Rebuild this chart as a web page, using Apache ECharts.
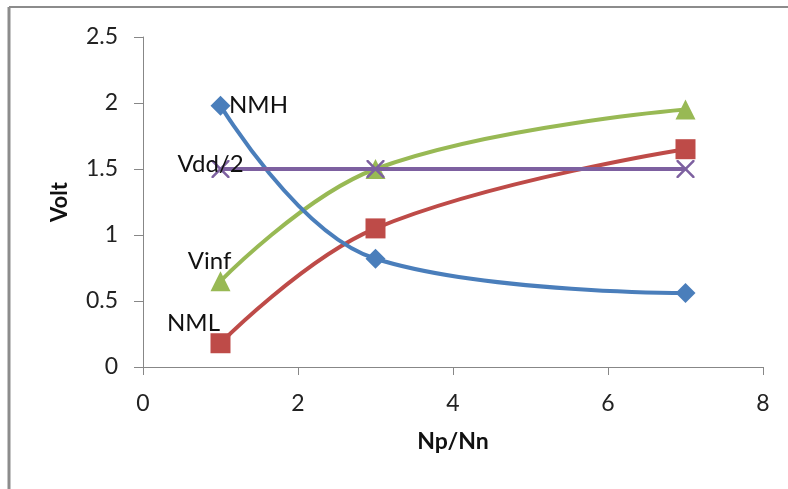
<!DOCTYPE html>
<html>
<head>
<meta charset="utf-8">
<script src="https://cdn.jsdelivr.net/npm/echarts@6/dist/echarts.min.js"></script>
<style>
html,body{margin:0;padding:0;background:#fff;}
#chart{width:788px;height:489px;}
</style>
</head>
<body>
<div id="chart"></div>
<script>
// Np/Nn ratios sampled
const ratios = [1, 3, 7];
// Noise margins and switching voltage (Volt)
const nmh = [1.98, 0.82, 0.56];
const nml = [0.18, 1.05, 1.65];
const vinf = [0.65, 1.5, 1.95];
const vddHalf = [1.5, 1.5, 1.5];
const seriesNames = ['NMH', 'NML', 'Vinf', 'Vdd/2'];
const xTicks = [0, 2, 4, 6, 8];
const yTicks = [0, 0.5, 1, 1.5, 2, 2.5];

const FONT = 'Lato, "Open Sans", sans-serif';
const crossPath = 'path://M0,0 L2,0 L10,8 L18,0 L20,0 L20,2 L12,10 L20,18 L20,20 L18,20 L10,12 L2,20 L0,20 L0,18 L8,10 L0,2 Z';

// series name printed beside the first point of each curve
function points(values, labelOffset) {
  return values.map((v, i) => {
    const item = { value: [ratios[i], v] };
    if (i === 0) {
      item.label = {
        show: true, position: 'inside', offset: labelOffset, formatter: '{a}',
        color: '#111', fontSize: 24, fontFamily: FONT
      };
    }
    return item;
  });
}

const chart = echarts.init(document.getElementById('chart'), null, { renderer: 'canvas' });
chart.setOption({
  animation: false,
  backgroundColor: '#fff',
  grid: { left: 143, right: 25, top: 37, bottom: 122 },
  xAxis: {
    type: 'value', min: xTicks[0], max: xTicks[xTicks.length - 1], interval: 2,
    name: 'Np/Nn', nameLocation: 'middle', nameGap: 63,
    nameTextStyle: { fontFamily: FONT, fontWeight: 'bold', fontSize: 23, color: '#111' },
    axisLine: { lineStyle: { color: '#878787', width: 1 } },
    axisTick: { show: true, length: 8, lineStyle: { color: '#878787' } },
    axisLabel: { fontFamily: FONT, fontSize: 23, color: '#222', margin: 25 },
    splitLine: { show: false }
  },
  yAxis: {
    type: 'value', min: yTicks[0], max: yTicks[yTicks.length - 1], interval: 0.5,
    name: 'Volt', nameLocation: 'middle', nameGap: 72, nameRotate: 90,
    nameTextStyle: { fontFamily: FONT, fontWeight: 'bold', fontSize: 22, color: '#111' },
    axisLine: { show: true, lineStyle: { color: '#878787', width: 1 } },
    axisTick: { show: true, length: 9, lineStyle: { color: '#878787' } },
    axisLabel: { fontFamily: FONT, fontSize: 23, color: '#222', margin: 25 },
    splitLine: { show: false }
  },
  series: [
    {
      name: seriesNames[0], type: 'line', smooth: 0.4,
      data: points(nmh, [38, 0]),
      symbol: 'diamond', symbolSize: 20,
      itemStyle: { color: '#4A7EBB' }, lineStyle: { color: '#4A7EBB', width: 4 }, z: 4
    },
    {
      name: seriesNames[1], type: 'line', smooth: 0.4,
      data: points(nml, [-27, -20]),
      symbol: 'rect', symbolSize: 20,
      itemStyle: { color: '#BE4B48' }, lineStyle: { color: '#BE4B48', width: 4 }, z: 3
    },
    {
      name: seriesNames[2], type: 'line', smooth: 0.4,
      data: points(vinf, [-11, -20]),
      symbol: 'triangle', symbolSize: 20,
      itemStyle: { color: '#98B954' }, lineStyle: { color: '#98B954', width: 4 }, z: 2
    },
    {
      name: seriesNames[3], type: 'line', smooth: 0.4,
      data: points(vddHalf, [-10, -5]),
      symbol: crossPath, symbolSize: 18,
      itemStyle: { color: '#7D60A0' }, lineStyle: { color: '#7D60A0', width: 4 }, z: 5
    }
  ],
  graphic: [
    { type: 'line', shape: { x1: 9, y1: 7, x2: 788, y2: 7 }, style: { stroke: '#8c8c8c', lineWidth: 2 } },
    { type: 'line', shape: { x1: 9, y1: 7, x2: 9, y2: 489 }, style: { stroke: '#8c8c8c', lineWidth: 3 } }
  ]
});
</script>
</body>
</html>
